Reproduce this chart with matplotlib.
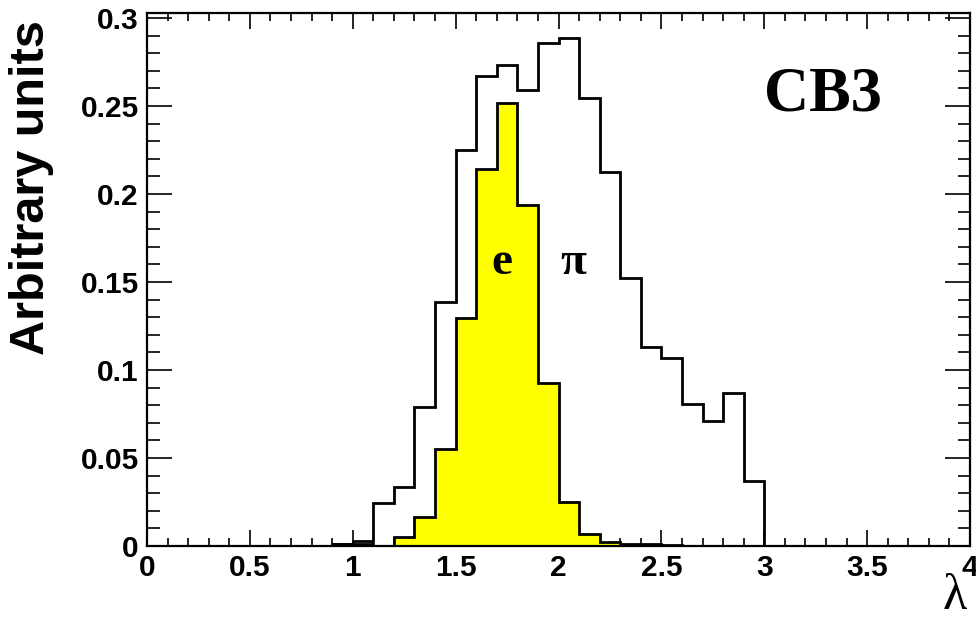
import numpy as np
import matplotlib
matplotlib.use("Agg")
import matplotlib.pyplot as plt
from matplotlib.ticker import MultipleLocator

# Bin layout: 0.1-wide bins on lambda
bin_width = 0.1

# Pion distribution, bins starting at lambda = 0.9
pi_start = 0.9
pi_values = [0.001, 0.003, 0.0246, 0.0337, 0.0792, 0.1386, 0.225, 0.267,
             0.2733, 0.2593, 0.2856, 0.2888, 0.2544, 0.2125, 0.1525, 0.1131,
             0.107, 0.0807, 0.071, 0.0867, 0.0371]

# Electron distribution, bins starting at lambda = 0.9
e_start = 0.9
e_values = [0.001, 0.001, 0.0, 0.0049, 0.0167, 0.0549, 0.1295, 0.2142,
            0.2515, 0.1937, 0.0928, 0.0248, 0.0066, 0.0021, 0.001, 0.001,
            0.0005]

x_ticks = [0, 0.5, 1, 1.5, 2, 2.5, 3, 3.5, 4]
x_tick_labels = ["0", "0.5", "1", "1.5", "2", "2.5", "3", "3.5", "4"]
y_ticks = [0, 0.05, 0.1, 0.15, 0.2, 0.25, 0.3]
y_tick_labels = ["0", "0.05", "0.1", "0.15", "0.2", "0.25", "0.3"]

pi_edges = pi_start + bin_width * np.arange(len(pi_values) + 1)
e_edges = e_start + bin_width * np.arange(len(e_values) + 1)

W, H = 976, 619
fig = plt.figure(figsize=(W / 100, H / 100), dpi=100)
ax = fig.add_axes([147 / W, 1 - 546 / H, (970 - 147) / W, (546 - 13) / H])

# Electron: yellow filled histogram with black outline
ax.stairs(e_values, e_edges, baseline=0, fill=True, facecolor="#ffff00",
          edgecolor="none", zorder=2)
ax.stairs(e_values, e_edges, baseline=0, fill=False, color="black",
          linewidth=2.0, zorder=3)
# Pion: open histogram
ax.stairs(pi_values, pi_edges, baseline=0, fill=False, color="black",
          linewidth=2.0, zorder=4)

ax.set_xlim(0, 4)
ax.set_ylim(0, 0.3028)

tick_font = dict(family="Liberation Sans", weight="bold", size=21.5)
ax.set_xticks(x_ticks)
ax.set_xticklabels(x_tick_labels, fontdict=tick_font)
ax.set_yticks(y_ticks)
ax.set_yticklabels(y_tick_labels, fontdict=tick_font)
ax.xaxis.set_minor_locator(MultipleLocator(0.1))
ax.yaxis.set_minor_locator(MultipleLocator(0.01))

ax.tick_params(axis="x", which="major", direction="in", length=11.5, width=1.2,
               top=True, bottom=True, pad=6)
ax.tick_params(axis="x", which="minor", direction="in", length=5.8, width=1.2,
               top=True, bottom=True)
ax.tick_params(axis="y", which="major", direction="in", length=18, width=1.2,
               left=True, right=True, pad=6)
ax.tick_params(axis="y", which="minor", direction="in", length=9, width=1.2,
               left=True, right=True)
for s in ax.spines.values():
    s.set_linewidth(1.6)

# Annotations
ax.text(3.285, 0.256, "CB3", family="Liberation Serif", weight="bold",
        fontsize=45, ha="center", va="center")
ax.text(1.725, 0.161, "e", family="Liberation Serif", weight="bold",
        fontsize=34, ha="center", va="center")
ax.text(2.07, 0.161, "π", family="Liberation Serif", weight="bold",
        fontsize=34, ha="center", va="center")

fig.text(955 / W, 1 - 597 / H, "λ", family="Liberation Serif", fontsize=36,
         ha="center", va="center")
fig.text(32 / W, 1 - 20 / H, "Arbitrary units", family="Liberation Sans",
         weight="bold", fontsize=35, rotation=90, ha="center", va="top")

fig.savefig("out.png", dpi=100)
